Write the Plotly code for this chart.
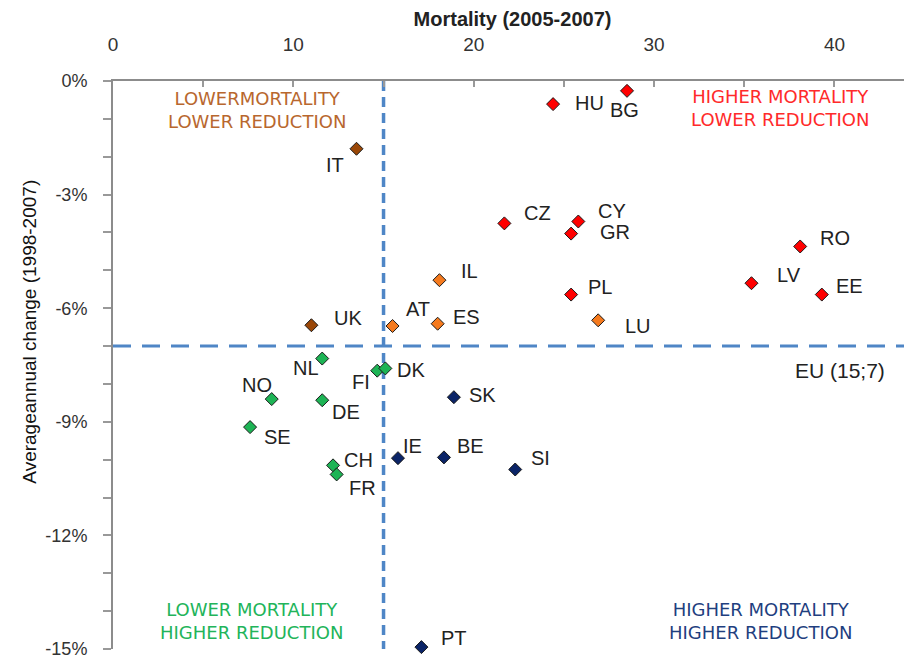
import plotly.graph_objects as go

# ---------------- data ----------------
countries = ["HU", "BG", "CZ", "CY", "GR", "RO", "LV", "EE", "PL",
             "IT", "UK",
             "IL", "AT", "ES", "LU",
             "NL", "FI", "DK", "NO", "DE", "SE", "CH", "FR",
             "IE", "BE", "SK", "SI", "PT"]
mortality = [24.4, 28.5, 21.7, 25.8, 25.4, 38.1, 35.4, 39.3, 25.4,
             13.5, 11.0,
             18.1, 15.5, 18.0, 26.9,
             11.6, 14.65, 15.1, 8.8, 11.6, 7.6, 12.2, 12.4,
             15.8, 18.35, 18.9, 22.3, 17.1]
change = [-0.61, -0.26, -3.76, -3.71, -4.03, -4.37, -5.34, -5.64, -5.64,
          -1.79, -6.45,
          -5.26, -6.47, -6.41, -6.32,
          -7.33, -7.65, -7.59, -8.40, -8.43, -9.14, -10.15, -10.39,
          -9.96, -9.94, -8.35, -10.26, -14.95]
groups = ["red"] * 9 + ["brown"] * 2 + ["orange"] * 4 + ["green"] * 8 + ["navy"] * 5

eu_mortality = 15
eu_change = -7
eu_label = "EU (15;7)"

x_title = "Mortality (2005-2007)"
y_title = "Averageannual change (1998-2007)"
x_tickvals = [0, 10, 20, 30, 40]
y_tickvals = [0, -3, -6, -9, -12, -15]
y_ticktext = ["0%", "-3%", "-6%", "-9%", "-12%", "-15%"]

quadrant_text = {
    "brown": ["LOWERMORTALITY", "LOWER REDUCTION"],
    "red": ["HIGHER MORTALITY", "LOWER REDUCTION"],
    "green": ["LOWER MORTALITY", "HIGHER REDUCTION"],
    "navy": ["HIGHER MORTALITY", "HIGHER REDUCTION"],
}

# ---------------- styles / positions ----------------
marker_colors = {"red": "#FF0000", "brown": "#9A4707", "orange": "#F57A1E",
                 "green": "#1DB455", "navy": "#0B2467"}
quadrant_colors = {"brown": "#B8672E", "red": "#FF2A2A",
                   "green": "#22B45A", "navy": "#1F3F7F"}
# centre (data coords) of each quadrant label
quadrant_pos = {"brown": (7.98, -0.76),
                "red": (37.0, -0.71),
                "green": (7.7, -14.25),
                "navy": (35.9, -14.25)}
# label offsets in pixels (dx right, dy down)
label_offsets = {
    "IT": (-21, 16), "IL": (30, -9), "UK": (37, -7), "AT": (25, -17), "ES": (29, -7),
    "HU": (36, -1), "BG": (-3, 19), "CZ": (33, -10), "CY": (34, -10), "GR": (44, -2),
    "RO": (35, -8), "LV": (38, -8), "EE": (28, -9), "PL": (29, -8), "LU": (40, 6),
    "NL": (-16, 9), "FI": (-16, 11), "DK": (26, 2), "NO": (-15, -14), "DE": (24, 12),
    "SE": (27, 10), "CH": (25, -5), "FR": (26, 14), "IE": (15, -12), "BE": (27, -11),
    "SK": (29, -2), "SI": (25, -12), "PT": (33, -9),
}

FONT = "Liberation Sans, Arial, sans-serif"

fig = go.Figure()

for g in ["red", "brown", "orange", "green", "navy"]:
    idx = [i for i, gg in enumerate(groups) if gg == g]
    fig.add_trace(go.Scatter(
        x=[mortality[i] for i in idx],
        y=[change[i] for i in idx],
        mode="markers",
        marker=dict(symbol="diamond", size=10, color=marker_colors[g],
                    line=dict(color="#1a1a1a", width=1)),
        showlegend=False,
        hoverinfo="skip",
        cliponaxis=False,
    ))

annotations = []
for c, xv, yv in zip(countries, mortality, change):
    dx, dy = label_offsets[c]
    annotations.append(dict(
        x=xv, y=yv, xref="x", yref="y", text=c, showarrow=False,
        xshift=dx, yshift=-dy, xanchor="center", yanchor="middle",
        font=dict(family=FONT, size=20, color="#222222"),
    ))

for g, lines in quadrant_text.items():
    qx, qy = quadrant_pos[g]
    annotations.append(dict(
        x=qx, y=qy, xref="x", yref="y", text="<br>".join(lines), showarrow=False,
        xanchor="center", yanchor="middle", align="center", borderpad=0,
        font=dict(family="DejaVu Sans, Verdana, sans-serif", size=18,
                  color=quadrant_colors[g]),
    ))

annotations.append(dict(
    x=42.9, y=eu_change, xref="x", yref="y", text=eu_label, showarrow=False,
    xanchor="right", yanchor="middle", yshift=-24,
    font=dict(family=FONT, size=21, color="#222222"),
))

annotations.append(dict(
    x=0, y=-6.62, xref="paper", yref="y", text=y_title, showarrow=False,
    textangle=-90, xanchor="center", yanchor="middle", xshift=-83,
    font=dict(family=FONT, size=19, color="#111111"),
))

shapes = [
    dict(type="line", xref="x", yref="y", x0=eu_mortality, x1=eu_mortality,
         y0=0, y1=-15, line=dict(color="#4F86C6", width=3.5, dash="10px,6px"), layer="below"),
    dict(type="line", xref="paper", yref="y", x0=0, x1=1,
         y0=eu_change, y1=eu_change, line=dict(color="#4F86C6", width=3, dash="18px,11px"), layer="below"),
]

# page body has an 8px margin: the figure is sized/offset so the plot lands in place
fig.update_layout(
    width=904, height=653,
    margin=dict(l=105, r=0, t=73, b=12, pad=0),
    paper_bgcolor="white", plot_bgcolor="white",
    annotations=annotations, shapes=shapes,
    xaxis=dict(
        side="top", range=[0, 44.3], tickvals=x_tickvals, automargin=False,
        ticks="inside", ticklen=6, tickwidth=1.5, tickcolor="#999999",
        minor=dict(dtick=5, tick0=0, ticks="inside", ticklen=6, tickcolor="#999999", tickwidth=1.5),
        showline=True, linecolor="#8c8c8c", linewidth=2,
        showgrid=False, zeroline=False, ticklabelstandoff=20,
        tickfont=dict(family=FONT, size=19, color="#333333"),
        title=dict(text="<b>" + x_title + "</b>", standoff=2,
                   font=dict(family=FONT, size=20, color="#222222")),
    ),
    yaxis=dict(
        range=[-15, 0], tickvals=y_tickvals, ticktext=y_ticktext, automargin=False,
        ticks="outside", ticklen=8, tickwidth=1.5, tickcolor="#999999",
        minor=dict(dtick=1, tick0=0, ticks="outside", ticklen=8, tickcolor="#999999", tickwidth=1.5),
        showline=True, linecolor="#8c8c8c", linewidth=2,
        showgrid=False, zeroline=False, ticklabelstandoff=12,
        ticklabeloverflow="allow",
        tickfont=dict(family=FONT, size=18, color="#333333"),
    ),
)

fig.write_html("out.html")
